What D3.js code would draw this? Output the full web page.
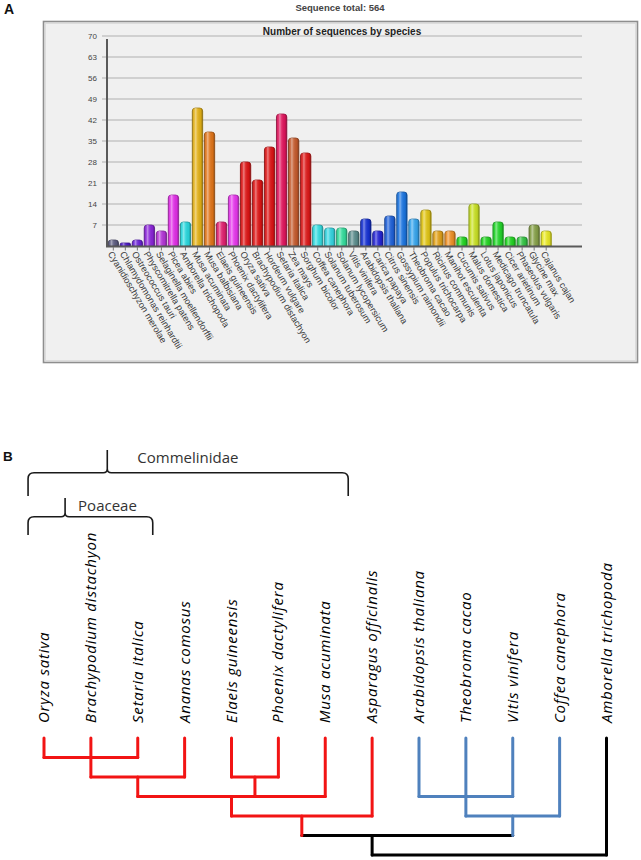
<!DOCTYPE html>
<html><head><meta charset="utf-8">
<script src="https://cdn.jsdelivr.net/npm/d3@7"></script>
<style>
body{margin:0;background:#fff;}
svg{display:block;}
</style></head><body>
<svg id="c" width="641" height="860"></svg>
<script>
// ---------- Panel A data ----------
const species = ["Cyanidioschyzon merolae","Chlamydomonas reinhardtii","Ostreococcus tauri","Physcomitrella patens","Selaginella moellendorffii","Picea abies","Amborella trichopoda","Musa acuminata","Musa balbisiana","Elaeis guineensis","Phoenix dactylifera","Oryza sativa","Brachypodium distachyon","Hordeum vulgare","Setaria italica","Zea mays","Sorghum bicolor","Coffea canephora","Solanum tuberosum","Solanum lycopersicum","Vitis vinifera","Arabidopsis thaliana","Carica papaya","Citrus sinensis","Gossypium raimondii","Theobroma cacao","Populus trichocarpa","Ricinus communis","Manihot esculenta","Cucumis sativus","Malus domestica","Lotus japonicus","Medicago truncatula","Cicer arietinum","Phaseolus vulgaris","Glycine max","Cajanus cajan"];
const counts = [2,1,2,7,5,17,8,46,38,8,17,28,22,33,44,36,31,7,6,6,5,9,5,10,18,9,12,5,5,3,14,3,8,3,3,7,5];
const barColors = ["#5c5c80","#4b16c8","#6a22d6","#8a24d8","#b334d6","#e02ee6","#28d6dc","#e2b016","#e07418","#e0206e","#e636ec","#dc1414","#dc1414","#dc1414","#e0145c","#c45a2c","#dc1818","#34dce0","#34d4e0","#34dc9c","#5a8c8c","#1430d2","#2424d4","#1e60d8","#1a74e0","#36a4ec","#e0c414","#e0a018","#ee9026","#22d422","#c8e024","#22d422","#22d42a","#22d422","#34c444","#86a048","#e8e824"];
const yTicks = [7,14,21,28,35,42,49,56,63,70];
const chartTitle = "Number of sequences by species";
const totalLabel = "Sequence total: 564";

// ---------- Panel B data ----------
const treeLeaves = ["Oryza sativa","Brachypodium distachyon","Setaria italica","Ananas comosus","Elaeis guineensis","Phoenix dactylifera","Musa acuminata","Asparagus officinalis","Arabidopsis thaliana","Theobroma cacao","Vitis vinifera","Coffea canephora","Amborella trichopoda"];
const leafGroups = ["mono","mono","mono","mono","mono","mono","mono","mono","eudi","eudi","eudi","eudi","out"];
const groupColors = {mono:"#f21414", eudi:"#4f81bd", out:"#000000"};
// tree topology: leaf indices, node heights (levels)
const treeData = {level:6, group:"out", children:[
  {level:5, group:"out", anchor:7, children:[
    {level:4, group:"mono", children:[
      {level:3, group:"mono", children:[
        {level:2, group:"mono", children:[
          {level:1, group:"mono", children:[0,1,2]}, 3]},
        {level:2, group:"mono", children:[4,5]},
        6]},
      7]},
    {level:4, group:"eudi", children:[
      {level:3, group:"eudi", children:[8,9,10]}, 11]}
  ]},
  12]};
const brackets = [
  {label:"Commelinidae", from:-0.34, to:6.49, tip:1.35},
  {label:"Poaceae", from:-0.34, to:2.32, tip:0.45}
];

const svg = d3.select("#c");

// ================= PANEL A =================
svg.append("text").attr("x",4).attr("y",14).attr("font-family","Liberation Sans, Arial, sans-serif")
  .attr("font-weight","bold").attr("font-size",14).attr("fill","#111").text("A");
svg.append("text").attr("x",340).attr("y",11).attr("text-anchor","middle")
  .attr("font-family","Liberation Sans, Arial, sans-serif").attr("font-weight","bold")
  .attr("font-size",9.5).attr("fill","#444").text(totalLabel);

// panel box
svg.append("rect").attr("x",43.5).attr("y",21.5).attr("width",594).attr("height",341)
  .attr("fill","#f0f0f0").attr("stroke","#8e8e8e").attr("stroke-width",1.6);
svg.append("rect").attr("x",45.5).attr("y",23.5).attr("width",590).attr("height",337)
  .attr("fill","none").attr("stroke","#dcdcdc").attr("stroke-width",1);

const x = d3.scaleBand().domain(species).range([107.3, 552.2]).paddingInner(0.14).paddingOuter(0.07);
const y = d3.scaleLinear().domain([0,70]).range([246,36]);

const defs = svg.append("defs");
const g1 = defs.append("linearGradient").attr("id","gloss").attr("x1","0").attr("x2","1").attr("y1","0").attr("y2","0");
[[0,"#000",0.28],[0.15,"#fff",0.05],[0.32,"#fff",0.45],[0.5,"#fff",0.12],[0.8,"#000",0.05],[1,"#000",0.3]]
  .forEach(([o,c,a])=>g1.append("stop").attr("offset",o).attr("stop-color",c).attr("stop-opacity",a));

// gridlines
svg.append("g").selectAll("line").data(yTicks).join("line")
  .attr("x1",102).attr("x2",582).attr("y1",d=>y(d)).attr("y2",d=>y(d))
  .attr("stroke","#c6c6c6").attr("stroke-width",1.6);
svg.append("g").selectAll("text").data(yTicks).join("text")
  .attr("x",97).attr("y",d=>y(d)+3).attr("text-anchor","end")
  .attr("font-family","Liberation Sans, Arial, sans-serif").attr("font-size",8)
  .attr("fill","#444").text(d=>d);

svg.append("text").attr("x",342).attr("y",35).attr("text-anchor","middle")
  .attr("font-family","Liberation Sans, Arial, sans-serif").attr("font-weight","bold")
  .attr("font-size",10).attr("fill","#222").text(chartTitle);

// bars
const bw = x.bandwidth();
function barPath(x0,y0,w,h){
  const r = Math.min(3,h/2,w/2);
  return `M${x0},${y0+h}V${y0+r}Q${x0},${y0} ${x0+r},${y0}H${x0+w-r}Q${x0+w},${y0} ${x0+w},${y0+r}V${y0+h}Z`;
}
const bars = svg.append("g").selectAll("g").data(species).join("g");
bars.append("path")
  .attr("d",(d,i)=>barPath(x(d), y(counts[i]), bw, y(0)-y(counts[i])))
  .attr("fill",(d,i)=>barColors[i])
  .attr("stroke",(d,i)=>d3.color(barColors[i]).darker(0.9))
  .attr("stroke-width",0.8);
bars.append("path")
  .attr("d",(d,i)=>barPath(x(d), y(counts[i]), bw, y(0)-y(counts[i])))
  .attr("fill","url(#gloss)");

// axes lines
svg.append("line").attr("x1",107).attr("x2",107).attr("y1",39).attr("y2",247)
  .attr("stroke","#5a5a5a").attr("stroke-width",2);
svg.append("line").attr("x1",106).attr("x2",582).attr("y1",246.5).attr("y2",246.5)
  .attr("stroke","#5a5a5a").attr("stroke-width",2);
// x ticks
svg.append("g").selectAll("line").data(species).join("line")
  .attr("x1",d=>x(d)+bw/2).attr("x2",d=>x(d)+bw/2).attr("y1",247).attr("y2",250.5)
  .attr("stroke","#777").attr("stroke-width",1);
// x labels
svg.append("g").selectAll("text").data(species).join("text")
  .attr("transform",d=>`translate(${x(d)+bw/2-3},${252}) rotate(59)`)
  .attr("font-family","Liberation Sans, Arial, sans-serif").attr("font-size",9.2)
  .attr("fill","#3a3a3a").attr("dy","0.35em").text(d=>d);

// ================= PANEL B =================
svg.append("text").attr("x",3).attr("y",461).attr("font-family","Liberation Sans, Arial, sans-serif")
  .attr("font-weight","bold").attr("font-size",13.5).attr("fill","#111").text("B");

const lx = d3.scaleLinear().domain([0, treeLeaves.length-1]).range([44, 606.5]);
const ly = d3.scaleLinear().domain([0, 6]).range([738, 855]);

// layout tree
function layout(n){
  if (typeof n === "number") return {pos:n, level:0, group:leafGroups[n], leaf:true};
  const kids = n.children.map(layout);
  const lo = d3.min(kids,k=>k.pos), hi = d3.max(kids,k=>k.pos);
  return {pos: n.anchor!=null ? n.anchor : (lo+hi)/2, lo, hi, level:n.level, group:n.group, kids};
}
const root = layout(treeData);
const segs = [];
(function walk(n){
  if (n.leaf) return;
  segs.push({x1:n.lo, x2:n.hi, y1:n.level, y2:n.level, group:n.group});
  n.kids.forEach(k=>{
    segs.push({x1:k.pos, x2:k.pos, y1:k.level, y2:n.level, group:k.group});
    walk(k);
  });
})(root);
svg.append("g").selectAll("line").data(segs).join("line")
  .attr("x1",d=>lx(d.x1)).attr("x2",d=>lx(d.x2))
  .attr("y1",d=>ly(d.y1)).attr("y2",d=>ly(d.y2))
  .attr("stroke",d=>groupColors[d.group]).attr("stroke-width",3)
  .attr("stroke-linecap","round");

// leaf labels
svg.append("g").selectAll("text").data(treeLeaves).join("text")
  .attr("transform",(d,i)=>`translate(${lx(i)+5},723) rotate(-90)`)
  .attr("text-anchor","start")
  .attr("font-family","Open Sans, sans-serif").attr("font-style","italic")
  .attr("font-size",15).attr("letter-spacing",0.8).attr("fill","#000").text(d=>d);

// brackets
const bLayout = [
  {hy:472.7, endY:496, tipY:450, tx:30, ty:463},
  {hy:516.7, endY:535, tipY:498, tx:13, ty:510.5}
];
brackets.forEach((b,i)=>{
  const L = bLayout[i];
  const x0 = lx(b.from), x1 = lx(b.to), xt = lx(b.tip), r = 6, s = 4;
  const p = d3.path();
  p.moveTo(x0, L.endY);
  p.lineTo(x0, L.hy + r);
  p.quadraticCurveTo(x0, L.hy, x0 + r, L.hy);
  p.lineTo(xt - s, L.hy);
  p.quadraticCurveTo(xt, L.hy, xt, L.hy - s);
  p.lineTo(xt, L.tipY);
  p.moveTo(xt, L.hy - s);
  p.quadraticCurveTo(xt, L.hy, xt + s, L.hy);
  p.lineTo(x1 - r, L.hy);
  p.quadraticCurveTo(x1, L.hy, x1, L.hy + r);
  p.lineTo(x1, L.endY);
  svg.append("path").attr("d",p.toString()).attr("fill","none")
    .attr("stroke","#1a1a1a").attr("stroke-width",1.6);
  svg.append("text").attr("x",xt + L.tx).attr("y",L.ty)
    .attr("font-family","Open Sans, sans-serif").attr("font-size",15)
    .attr("fill","#333").text(b.label);
});
</script>
</body></html>
